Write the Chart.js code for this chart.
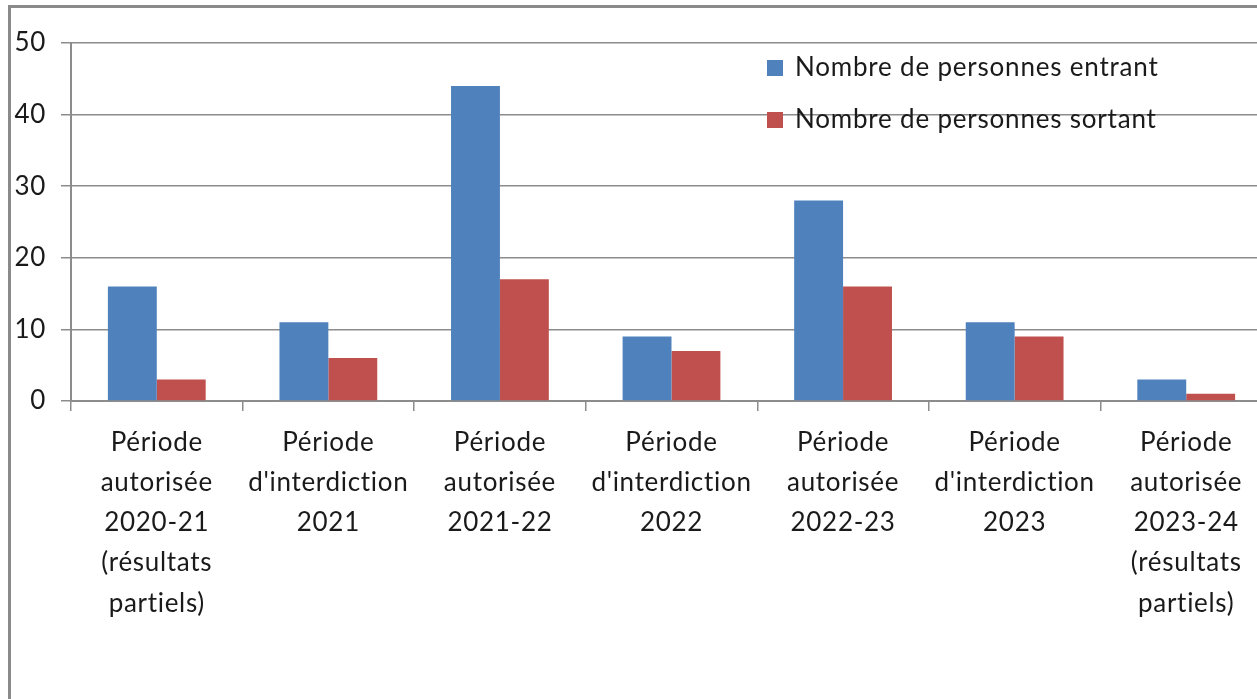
<!DOCTYPE html>
<html>
<head>
<meta charset="utf-8">
<script src="https://cdn.jsdelivr.net/npm/chart.js@4"></script>
<style>
  html, body { margin: 0; padding: 0; background: #fff; overflow: hidden; }
  #frame { position: absolute; left: 8px; top: 5px; width: 1400px; height: 800px;
           border-left: 3px solid #8a8a8a; border-top: 3px solid #8a8a8a; }
  #wrap { position: absolute; left: 0; top: 0; width: 1272px; height: 699px; }
</style>
</head>
<body>
<div id="frame"></div>
<div id="wrap"><canvas id="myChart"></canvas></div>
<script>
var categories = [
  ['Période', 'autorisée', '2020-21', '(résultats', 'partiels)'],
  ['Période', "d'interdiction", '2021'],
  ['Période', 'autorisée', '2021-22'],
  ['Période', "d'interdiction", '2022'],
  ['Période', 'autorisée', '2022-23'],
  ['Période', "d'interdiction", '2023'],
  ['Période', 'autorisée', '2023-24', '(résultats', 'partiels)']
];
var entrant = [16, 11, 44, 9, 28, 11, 3];
var sortant = [3, 6, 17, 7, 16, 9, 1];
var seriesNames = ['Nombre de personnes entrant', 'Nombre de personnes sortant'];
var yTicks = [0, 10, 20, 30, 40, 50];

var font = 'Lato, "Liberation Sans", sans-serif';

// a bit of letter spacing (also turns off the "ti" ligature of Lato)
var spacing = {
  id: 'spacing',
  beforeDraw: function(chart) {
    chart.ctx.letterSpacing = '0.7px';
  }
};

// legend drawn inside the plot, top right
var innerLegend = {
  id: 'innerLegend',
  afterDatasetsDraw: function(chart) {
    var ctx = chart.ctx;
    ctx.save();
    ctx.letterSpacing = '0.8px';
    ctx.font = '26px ' + font;
    ctx.textBaseline = 'middle';
    chart.data.datasets.forEach(function(ds, i) {
      var y = 68 + i * 52;
      ctx.fillStyle = ds.backgroundColor;
      ctx.fillRect(767, y - 8, 16, 16);
      ctx.fillStyle = '#1a1a1a';
      ctx.fillText(ds.label, 795, y);
    });
    ctx.restore();
  }
};

var ctx = document.getElementById('myChart').getContext('2d');
var myChart = new Chart(ctx, {
  type: 'bar',
  data: {
    labels: categories,
    datasets: [{
      label: seriesNames[0],
      data: entrant,
      backgroundColor: '#4F81BD'
    }, {
      label: seriesNames[1],
      data: sortant,
      backgroundColor: '#C0504D'
    }]
  },
  options: {
    responsive: true,
    maintainAspectRatio: false,
    animation: false,
    layout: { padding: { top: 43, left: 0, right: 0, bottom: 0 } },
    datasets: { bar: { categoryPercentage: 0.57, barPercentage: 1 } },
    plugins: {
      legend: { display: false },
      tooltip: { enabled: false }
    },
    scales: {
      x: {
        offset: true,
        grid: { display: true, drawOnChartArea: false, offset: true, color: '#8c8c8c', tickLength: 10, lineWidth: 1.5 },
        border: { color: '#8c8c8c', width: 2 },
        ticks: { color: '#1a1a1a', padding: 11, maxRotation: 0, autoSkip: false,
                 font: { family: font, size: 26, lineHeight: 1.55 } },
        afterFit: function(scale) { scale.height = 298; }
      },
      y: {
        min: 0,
        max: 50,
        afterBuildTicks: function(scale) {
          scale.ticks = yTicks.map(function(v) { return { value: v }; });
        },
        grid: { color: '#8c8c8c', tickLength: 10, lineWidth: 1.5 },
        border: { color: '#8c8c8c', width: 2 },
        ticks: { color: '#1a1a1a', padding: 15, font: { family: font, size: 26 } },
        afterFit: function(scale) { scale.width = 71; }
      }
    }
  },
  plugins: [spacing, innerLegend]
});
</script>
</body>
</html>
